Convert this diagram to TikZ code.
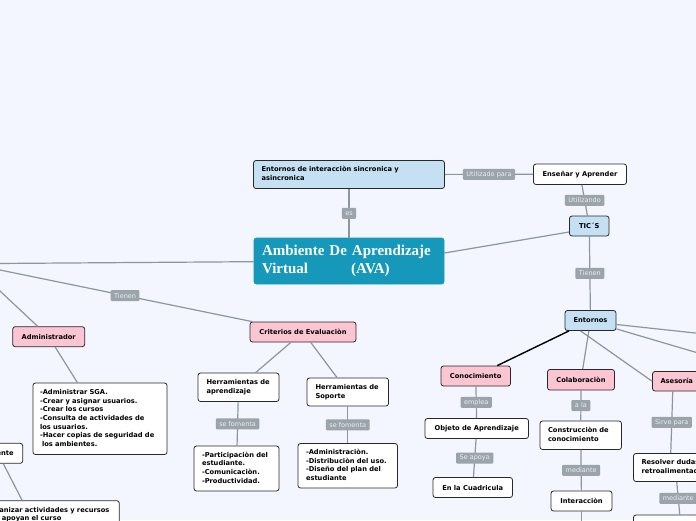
\documentclass[tikz,border=0pt]{standalone}
\usepackage{fontspec}
\newfontfamily\dvs{DejaVu Sans}
\newfontfamily\lserif{Liberation Serif}
\usetikzlibrary{calc}
\definecolor{bg}{RGB}{243,246,254}
\definecolor{lblue}{RGB}{197,224,242}
\definecolor{pinkf}{RGB}{252,197,210}
\definecolor{tealf}{RGB}{22,152,186}
\definecolor{linegray}{RGB}{140,150,160}
\definecolor{lblgray}{RGB}{155,163,171}
\definecolor{lbltext}{RGB}{236,239,243}
\definecolor{bord}{RGB}{40,40,40}
\newcommand\nf{\dvs\bfseries\fontsize{6.7}{8.6}\selectfont}
\newcommand\lf{\dvs\fontsize{6.5}{7}\selectfont}
\newcommand\mf{\lserif\bfseries\fontsize{15}{17.5}\selectfont}
\newcommand\ml[1]{\begin{tabular}{@{}l@{}}#1\end{tabular}}
\tikzset{
  box/.style={draw=bord, line width=0.8pt, rounded corners=2.5pt, fill=white, font=\nf, inner ysep=0pt, text=black},
  cbox/.style={box, align=center, inner xsep=0pt},
  lbox/.style={box, align=left},
  conn/.style={draw=linegray, line width=1.2pt},
  strong/.style={draw=black, line width=1.4pt},
  lbl/.style={fill=lblgray, text=lbltext, font=\lf, rounded corners=1pt, inner xsep=3.5pt, inner ysep=2pt, minimum height=11pt}
}
\begin{document}
\begin{tikzpicture}[x=1pt,y=-1pt]
\useasboundingbox (0,0) rectangle (696,520);
\clip (0,0) rectangle (696,520);
\fill[bg] (0,0) rectangle (696,520);

% top cluster
\node[lbox, fill=lblue, text width=175pt, inner xsep=8pt, minimum height=28pt] (ei) at (349,174.5) {\ml{Entornos de interacciòn sincronica y\\asincronica}};
\node[lbox, fill=tealf, draw=tealf, text=white, font=\mf, text width=174pt, inner xsep=8pt, minimum height=46pt] (main) at (349,261) {Ambiente De Aprendizaje\\Virtual\hspace*{43pt}(AVA)};
\node[cbox, minimum width=93pt, minimum height=20.5pt] (ens) at (580,174.25) {Enseñar y Aprender};
\node[cbox, fill=lblue, minimum width=39.5pt, minimum height=20pt] (tics) at (589.25,226) {TIC´S};

% right cluster
\node[cbox, fill=lblue, minimum width=51pt, minimum height=20pt] (ent) at (590.5,320.5) {Entornos};
\node[cbox, fill=pinkf, minimum width=69.5pt, minimum height=20pt] (con) at (475.75,376) {Conocimiento};
\node[cbox, fill=pinkf, minimum width=67pt, minimum height=20.5pt] (col) at (581,379.75) {Colaboraciòn};
\node[cbox, fill=pinkf, minimum width=48.5pt, minimum height=19.5pt] (ase) at (676.75,381.25) {Asesoría};
\node[cbox, minimum width=103.5pt, minimum height=20pt] (obj) at (476.75,428.5) {Objeto de Aprendizaje};
\node[cbox, minimum width=79.5pt, minimum height=20pt] (cua) at (472.75,487.5) {En la Cuadricula};
\node[lbox, text width=65.5pt, inner xsep=8pt, minimum height=28.5pt] (cons) at (580.75,435.25) {\ml{Construcciòn de\\conocimiento}};
\node[cbox, minimum width=61pt, minimum height=20pt] (inter) at (581.5,501) {Interacciòn};
\node[lbox, text width=72.5pt, inner xsep=8pt, minimum height=28pt] (res) at (677.75,467.5) {\ml{Resolver dudas y\\retroalimentaciòn}};
\node[cbox, minimum width=88.5pt, minimum height=28pt] (nxt) at (677.75,529) {};

% criteria cluster
\node[cbox, fill=pinkf, minimum width=106pt, minimum height=20pt] (crit) at (303,332) {Criterios de Evaluaciòn};
\node[lbox, text width=64pt, inner xsep=8.5pt, minimum height=28.5pt] (ha) at (238.5,387.25) {\ml{Herramientas de\\aprendizaje}};
\node[lbox, text width=64.5pt, inner xsep=8.5pt, minimum height=28pt] (hs) at (347.75,392) {\ml{Herramientas de\\Soporte}};
\node[lbox, text width=69pt, inner xsep=8pt, minimum height=45pt] (par) at (236.5,468.5) {\ml{-Participaciòn del\\estudiante.\\-Comunicaciòn.\\-Productividad.}};
\node[lbox, text width=83.5pt, inner xsep=8pt, minimum height=44.5pt] (adms) at (347.75,465.75) {\ml{-Administraciòn.\\-Distribuciòn del uso.\\-Diseño del plan del\\estudiante}};

% left cluster
\node[cbox, fill=pinkf, minimum width=72pt, minimum height=20pt] (adm) at (48.7,336.7) {Administrador};
\node[lbox, text width=120pt, inner xsep=7pt, minimum height=71.5pt] (alist) at (100,418.75) {\ml{-Administrar SGA.\\-Crear y asignar usuarios.\\-Crear los cursos\\-Consulta de actividades de\\los usuarios.\\-Hacer copias de seguridad de\\\hspace*{2pt}los ambientes.}};
\node[cbox, minimum width=49.4pt, minimum height=20pt] (doc) at (-2,453.3) {Docente};
\node[lbox, text width=125.8pt, inner xsep=8pt, minimum height=28pt] (org) at (48.4,514.7) {\ml{Organizar actividades y recursos\\que apoyan el curso}};

% off-canvas ends
\coordinate (offL1) at (-5,263.5);
\coordinate (offL2) at (-2,269.6);
\coordinate (offL3) at (-5,286.3);
\coordinate (offR1) at (710,334.6);
\coordinate (offR2) at (710,356.5);
\coordinate (offB) at (581.5,530);

% connectors
\draw[conn] (ei) -- node[lbl]{es} (main);
\draw[conn] (ei) -- node[lbl]{Utilizado para} (ens);
\draw[conn] (ens) -- node[lbl]{Utilizando} (tics);
\draw[conn] ([yshift=8pt]main.east) -- ([yshift=-6pt]tics.west);
\draw[conn] (tics) -- node[lbl]{Tienen} (ent);
\draw[strong] (ent) -- (con);
\draw[conn] (ent) -- (col);
\draw[conn] ([xshift=-10pt]ent.south) -- (ase.west);
\draw[conn] ([yshift=-4pt]ent.east) -- (offR1);
\draw[conn] ([yshift=2pt]ent.south east) -- (offR2);
\draw[conn] (con) -- node[lbl]{emplea} (obj);
\draw[conn] (obj) -- node[lbl]{Se apoya} (cua);
\draw[conn] (col) -- node[lbl]{a la} (cons);
\draw[conn] (cons) -- node[lbl]{mediante} (inter);
\draw[conn] (inter) -- (offB);
\draw[conn] ([xshift=-4pt]ase.south) -- node[lbl]{Sirve para} ([xshift=-7pt]res.north);
\draw[conn] ([xshift=-1pt]res.south) -- node[lbl]{mediante} ([xshift=2pt]nxt.north);

\draw[conn] (offL1) -- (main);
\draw[conn] (offL2) -- node[lbl]{Tienen} (crit);
\draw[conn] (offL3) -- (adm);
\draw[conn] (adm) -- (alist);
\draw[conn] (crit) -- (ha);
\draw[conn] (crit) -- (hs);
\draw[conn] (ha) -- node[lbl]{se fomenta} (par);
\draw[conn] (hs) -- node[lbl]{se fomenta} (adms);
\draw[conn] (doc) -- ($(org.north west)+(45,0)$);
\end{tikzpicture}
\end{document}
